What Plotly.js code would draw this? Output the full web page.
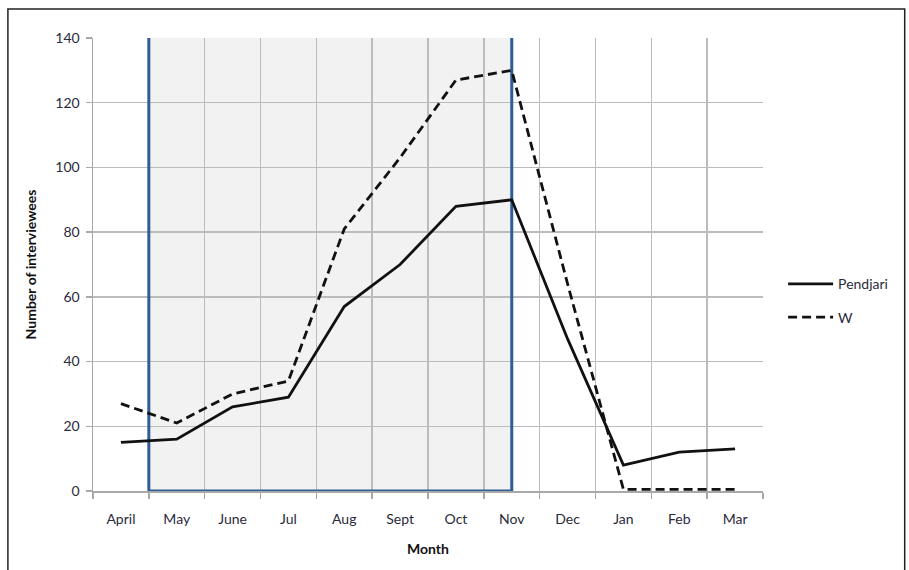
<!DOCTYPE html>
<html>
<head>
<meta charset="utf-8">
<script src="https://cdn.plot.ly/plotly-3.0.1.min.js"></script>
<style>html,body{margin:0;padding:0;background:#fff;}#chart{width:909px;height:570px;}</style>
</head>
<body>
<div id="chart"></div>
<script>
const months = ["April","May","June","Jul","Aug","Sept","Oct","Nov","Dec","Jan","Feb","Mar"];
const pendjari = [15, 16, 26, 29, 57, 70, 88, 90, 47, 8, 12, 13];
const wPark = [27, 21, 30, 34, 81, 103, 127, 130, 64, 0.5, 0.5, 0.5];
const seriesNames = ["Pendjari", "W"];
const seasonStart = 0.5;   // boundary between April and May
const seasonEnd = 7;       // Nov

const fontFam = "Lato, 'Open Sans', sans-serif";
const txtCol = "#2a2a3c";

const traces = [
  {x: months, y: pendjari, name: seriesNames[0], type: "scatter", mode: "lines", legendgroup: "a",
   line: {color: "#111111", width: 2.8}},
  {x: months, y: wPark, name: seriesNames[1], type: "scatter", mode: "lines", legendgroup: "b",
   line: {color: "#111111", width: 2.8, dash: "9px,5px"}}
];

const blue = "#2f5d97";
const layout = {
  width: 909, height: 570,
  margin: {l: 93, r: 146, t: 38, b: 79},
  paper_bgcolor: "#ffffff", plot_bgcolor: "#ffffff",
  font: {family: fontFam, size: 14, color: txtCol},
  showlegend: true,
  legend: {x: 1.03, y: 0.42, xanchor: "left", yanchor: "middle", itemwidth: 45,
           font: {family: fontFam, size: 14, color: txtCol}, tracegroupgap: 12},
  xaxis: {
    type: "category", range: [-0.5, 11.5],
    tickson: "boundaries", ticks: "outside", ticklen: 6, tickcolor: "#a8a8a8", tickwidth: 1.5,
    showgrid: true, gridcolor: "#bcbcbc", gridwidth: 1.5,
    showline: true, linecolor: "#a8a8a8", linewidth: 1.5,
    tickfont: {family: fontFam, size: 14, color: txtCol},
    ticklabelstandoff: 15,
    title: {text: "<b>Month</b>", font: {family: fontFam, size: 14, color: "#111"}, standoff: 18},
    fixedrange: true
  },
  yaxis: {
    range: [0, 140], dtick: 20, tick0: 0,
    ticks: "outside", ticklen: 6, tickcolor: "#a8a8a8", tickwidth: 1.5,
    showgrid: true, gridcolor: "#bcbcbc", gridwidth: 1.5,
    showline: true, linecolor: "#a8a8a8", linewidth: 1.5,
    zeroline: false,
    tickfont: {family: fontFam, size: 14, color: txtCol},
    ticklabelstandoff: 3,
    title: {text: "<b>Number of interviewees</b>", font: {family: fontFam, size: 14, color: "#111"}, standoff: 15},
    fixedrange: true
  },
  shapes: [
    {type: "rect", xref: "x", yref: "y", x0: seasonStart, x1: seasonEnd, y0: 0, y1: 140,
     fillcolor: "#f2f2f2", line: {width: 0}, layer: "below"},
    {type: "line", xref: "x", yref: "y", x0: seasonStart, x1: seasonStart, y0: 0, y1: 141.5,
     line: {color: blue, width: 3}, layer: "between"},
    {type: "line", xref: "x", yref: "y", x0: seasonEnd, x1: seasonEnd, y0: 0, y1: 141.5,
     line: {color: blue, width: 3}, layer: "between"},
    {type: "line", xref: "x", yref: "y", x0: seasonStart, x1: seasonEnd, y0: 0, y1: 0,
     line: {color: blue, width: 3}, layer: "between"},
    {type: "rect", xref: "paper", yref: "paper", x0: -0.127, x1: 1.2115, y0: -0.25, y1: 1.064,
     line: {color: "#222", width: 1.5}, fillcolor: "rgba(0,0,0,0)", layer: "above"}
  ]
};

Plotly.newPlot("chart", traces, layout, {displayModeBar: false, staticPlot: true});
</script>
</body>
</html>
